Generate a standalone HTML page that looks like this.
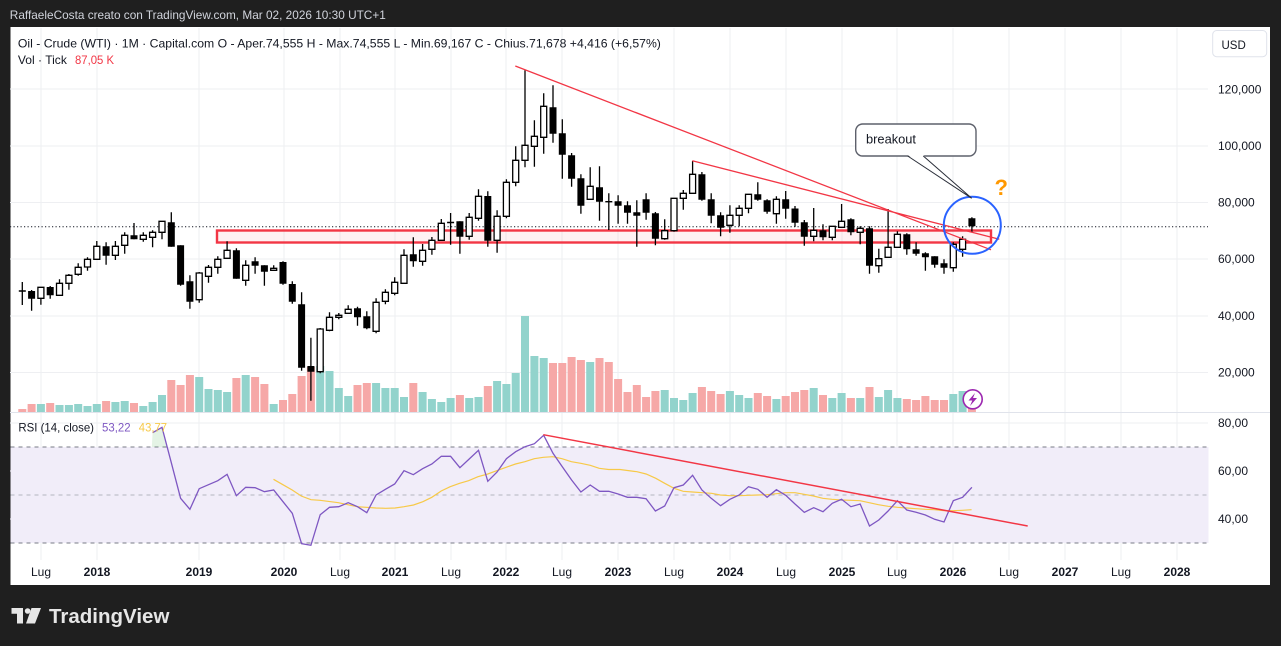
<!DOCTYPE html>
<html><head><meta charset="utf-8"><style>
html,body{margin:0;padding:0;background:#1f1f1f;}
svg{display:block;}
text{font-family:"Liberation Sans",sans-serif;}
</style></head><body>
<svg width="1281" height="646" viewBox="0 0 1281 646" xmlns="http://www.w3.org/2000/svg">
<rect x="0" y="0" width="1281" height="646" fill="#1f1f1f"/>
<text x="9.8" y="19" font-size="12" fill="#d1d4dc" textLength="376" lengthAdjust="spacingAndGlyphs">RaffaeleCosta creato con TradingView.com, Mar 02, 2026 10:30 UTC+1</text>
<rect x="10.5" y="27" width="1259.5" height="558" fill="#ffffff"/>

<!-- grid -->
<g stroke="#eeeff2" stroke-width="1">
<path d="M10 89H1208M10 146H1208M10 202.5H1208M10 259H1208M10 316H1208M10 372.5H1208M10 423H1208M10 471H1208M10 519H1208"/>
<path d="M41 28V560M97 28V560M199 28V560M284 28V560M340 28V560M395 28V560M451 28V560M506 28V560M562 28V560M618 28V560M674 28V560M730 28V560M786 28V560M842 28V560M897 28V560M953 28V560M1009 28V560M1065 28V560M1121 28V560M1177 28V560"/>
</g>
<path d="M10 412.5H1270" stroke="#e0e3eb" stroke-width="1"/>

<!-- volume -->
<path fill="#f6a8a7" d="M18.3 409h8V412h-8ZM27.6 404h8V412h-8ZM46.2 403h8V412h-8ZM102.1 401h8V412h-8ZM130 403h8V412h-8ZM167.3 380h8V412h-8ZM176.6 385h8V412h-8ZM185.9 375h8V412h-8ZM232.4 378h8V412h-8ZM251.1 377h8V412h-8ZM260.4 384h8V412h-8ZM279 400h8V412h-8ZM288.3 394h8V412h-8ZM297.6 376h8V412h-8ZM306.9 367h8V412h-8ZM353.5 385h8V412h-8ZM362.8 383h8V412h-8ZM409.3 383h8V412h-8ZM455.9 395h8V412h-8ZM483.8 386h8V412h-8ZM549 363h8V412h-8ZM558.3 363h8V412h-8ZM567.6 357h8V412h-8ZM576.9 360h8V412h-8ZM595.5 358h8V412h-8ZM604.8 362h8V412h-8ZM614.1 379h8V412h-8ZM623.5 392h8V412h-8ZM632.8 385h8V412h-8ZM642.1 397h8V412h-8ZM651.4 391h8V412h-8ZM697.9 387h8V412h-8ZM707.2 391h8V412h-8ZM716.6 394h8V412h-8ZM753.8 393h8V412h-8ZM763.1 396h8V412h-8ZM781.7 396h8V412h-8ZM791 392h8V412h-8ZM800.3 390h8V412h-8ZM819 395h8V412h-8ZM846.9 398h8V412h-8ZM865.5 387h8V412h-8ZM902.8 399h8V412h-8ZM912.1 400h8V412h-8ZM921.4 396h8V412h-8ZM930.7 400h8V412h-8ZM940 400h8V412h-8ZM967.9 397h8V412h-8Z"/>
<path fill="#92d3cc" d="M36.9 404h8V412h-8ZM55.5 405h8V412h-8ZM64.9 405h8V412h-8ZM74.2 404h8V412h-8ZM83.5 406h8V412h-8ZM92.8 404h8V412h-8ZM111.4 402h8V412h-8ZM120.7 401h8V412h-8ZM139.3 406h8V412h-8ZM148.6 402h8V412h-8ZM158 395h8V412h-8ZM195.2 377h8V412h-8ZM204.5 389h8V412h-8ZM213.8 390h8V412h-8ZM223.1 392h8V412h-8ZM241.7 375h8V412h-8ZM269.7 404h8V412h-8ZM316.2 366h8V412h-8ZM325.5 371h8V412h-8ZM334.8 388h8V412h-8ZM344.2 396h8V412h-8ZM372.1 383h8V412h-8ZM381.4 388h8V412h-8ZM390.7 388h8V412h-8ZM400 397h8V412h-8ZM418.6 392h8V412h-8ZM427.9 399h8V412h-8ZM437.3 402h8V412h-8ZM446.6 398h8V412h-8ZM465.2 398h8V412h-8ZM474.5 397h8V412h-8ZM493.1 381h8V412h-8ZM502.4 384h8V412h-8ZM511.7 373h8V412h-8ZM521 316h8V412h-8ZM530.4 356h8V412h-8ZM539.7 358h8V412h-8ZM586.2 362h8V412h-8ZM660.7 390h8V412h-8ZM670 398h8V412h-8ZM679.3 400h8V412h-8ZM688.6 393h8V412h-8ZM725.9 391h8V412h-8ZM735.2 395h8V412h-8ZM744.5 398h8V412h-8ZM772.4 399h8V412h-8ZM809.7 388h8V412h-8ZM828.3 398h8V412h-8ZM837.6 393h8V412h-8ZM856.2 398h8V412h-8ZM874.8 397h8V412h-8ZM884.1 390h8V412h-8ZM893.4 398h8V412h-8ZM949.3 394h8V412h-8ZM958.6 391h8V412h-8Z"/>

<!-- horizontal zone rectangle -->
<rect x="217" y="230.5" width="774" height="12" fill="#f23645" fill-opacity="0.07" stroke="#f23645" stroke-width="2.4"/>

<!-- current price dotted -->
<path d="M10 226.7H1208" stroke="#131722" stroke-width="1" stroke-dasharray="1.2,2.3"/>

<!-- wicks -->
<path fill="none" stroke="#000" stroke-width="1.3" d="M22.3 282V305M31.6 290V310.7M40.9 287V304.7M50.2 286V298.7M59.5 279.3V295.3M68.9 274V289.7M78.2 263.3V275.7M87.5 257.3V270.7M96.8 241V259.3M106.1 242.3V264.7M115.4 241V260M124.7 232.3V253.7M134 223V239.3M143.3 232.3V241.7M152.6 230.3V247.3M162 221.3V239.3M171.3 212.3V246.7M180.6 245.3V285.7M189.9 275.3V308.7M199.2 272V302.7M208.5 265V282.7M217.8 256.3V273.7M227.1 241.3V258.3M236.4 248.3V278.7M245.7 260.3V285.7M255.1 257.3V273.7M264.4 265.3V285.7M273.7 265.3V270.3M283 261.3V284.7M292.3 281.3V303.7M301.6 292.3V370.7M310.9 337.7V400.7M320.2 328V373.3M329.5 312.3V331.3M338.8 313V319.3M348.2 305.3V313.3M357.5 306.7V325.7M366.8 311.3V329.3M376.1 298.3V333.3M385.4 289.3V304.3M394.7 277.3V295.3M404 249.3V283.3M413.3 237.3V266.7M422.6 244V265.7M431.9 237V254.7M441.3 219V240.3M450.6 213V244.7M459.9 221.3V253.7M469.2 213V239.7M478.5 189.3V220.7M487.8 191.3V246.7M497.1 210.3V252.7M506.4 179.3V218.3M515.7 146.3V186.3M525 70.3V167.3M534.4 120.3V166.7M543.7 93.3V153.7M553 85.3V142.7M562.3 119.3V178.7M571.6 153V186.7M580.9 174.3V213.7M590.2 167.3V199.3M599.5 166.3V220.7M608.8 193.3V230M618.1 195.3V223.7M627.5 201.3V223.7M636.8 200.3V246.7M646.1 193.3V219.7M655.4 212V245.3M664.7 219.3V239.7M674 198.3V231.7M683.3 190V209.7M692.6 161V193.3M701.9 172V200.7M711.2 193.3V223.3M720.6 212.3V236.3M729.9 205.3V232.7M739.2 205.3V226.3M748.5 194.3V213.3M757.8 182.3V200.7M767.1 199.3V213.7M776.4 196.3V223.7M785.7 191V218.7M795 206V226.7M804.3 220V245.7M813.7 208V241.3M823 224.3V240.3M832.3 226.3V240.3M841.6 204V227.3M850.9 218.3V235.3M860.2 226.3V244.3M869.5 226.3V273.7M878.8 248.7V272.7M888.1 209V257.3M897.4 231.3V247.3M906.8 233.3V254.7M916.1 242.3V255.7M925.4 252.3V270.7M934.7 256.3V267.7M944 259.3V273.7M953.3 242.3V271.7M962.6 236.3V256.7M971.9 217.3V232.3"/>
<!-- dojis -->
<path fill="none" stroke="#000" stroke-width="1.4" d="M18.8 291h7M447.1 222.5h7M605.3 201.7h7"/>
<!-- bearish bodies -->
<path fill="#000" d="M28.1 291h7V298.7h-7ZM46.7 287h7V295.3h-7ZM102.6 246.3h7V255.7h-7ZM130.5 235.3h7V239.3h-7ZM167.8 222.3h7V246.7h-7ZM177.1 245.3h7V284.7h-7ZM186.4 281.3h7V301.7h-7ZM232.9 250.3h7V278.7h-7ZM251.6 261.3h7V265.7h-7ZM260.9 265.3h7V271.7h-7ZM279.5 262h7V283.7h-7ZM288.8 284h7V301.7h-7ZM298.1 304.3h7V367.7h-7ZM307.4 366h7V371.7h-7ZM354 308.3h7V317.3h-7ZM363.3 316.3h7V328.3h-7ZM409.8 254.3h7V261.3h-7ZM456.4 221.3h7V236.7h-7ZM484.3 196h7V240.7h-7ZM549.5 107.3h7V133.7h-7ZM558.8 133.3h7V154.7h-7ZM568.1 155.3h7V178.7h-7ZM577.4 178.3h7V205.7h-7ZM596 187.3h7V201.7h-7ZM614.6 201.3h7V205.7h-7ZM624 205.3h7V212.7h-7ZM633.3 212.3h7V215.7h-7ZM642.6 199.3h7V212.7h-7ZM651.9 213.3h7V238.7h-7ZM698.4 174.3h7V199.7h-7ZM707.7 199.3h7V215.7h-7ZM717.1 215.3h7V227.7h-7ZM754.3 194.3h7V199.7h-7ZM763.6 200.3h7V211.7h-7ZM782.2 199.3h7V208.7h-7ZM791.5 208.5h7V222.7h-7ZM800.8 222.3h7V236.7h-7ZM819.5 230.3h7V237.3h-7ZM847.4 219.3h7V232.3h-7ZM866 228.3h7V265.7h-7ZM903.3 234.3h7V249.3h-7ZM912.6 249.3h7V253.7h-7ZM921.9 253.3h7V257.3h-7ZM931.2 256.3h7V264.7h-7ZM940.5 263.3h7V267.7h-7ZM968.4 218.3h7V226.3h-7Z"/>
<!-- bullish bodies -->
<path fill="#fff" stroke="#000" stroke-width="1.3" d="M37.9 287.3h6V298.3h-6ZM56.5 283.3h6V295.3h-6ZM65.9 275.3h6V283.3h-6ZM75.2 267.3h6V274.3h-6ZM84.5 259.3h6V267h-6ZM93.8 246.3h6V259.3h-6ZM112.4 246.3h6V255.3h-6ZM121.7 235.3h6V245.3h-6ZM140.3 235.3h6V239.3h-6ZM149.6 232.3h6V237.3h-6ZM159 221.3h6V232.3h-6ZM196.2 273h6V299.7h-6ZM205.5 267.3h6V276.3h-6ZM214.8 259.3h6V267.3h-6ZM224.1 250.3h6V258.3h-6ZM242.7 265.3h6V280.3h-6ZM270.7 268.3h6V270.3h-6ZM317.2 329h6V371.7h-6ZM326.5 317.3h6V330.3h-6ZM335.8 315.3h6V317.3h-6ZM345.2 309.3h6V313.3h-6ZM373.1 302.3h6V331.3h-6ZM382.4 292.3h6V301.3h-6ZM391.7 282.3h6V293.3h-6ZM401 255.3h6V283.3h-6ZM419.6 250.3h6V261.3h-6ZM428.9 240.3h6V249.3h-6ZM438.3 223.3h6V240.3h-6ZM466.2 217.3h6V236.3h-6ZM475.5 196.3h6V218.3h-6ZM494.1 216.3h6V240.3h-6ZM503.4 182.3h6V216.3h-6ZM512.7 160.3h6V182.3h-6ZM522 145.3h6V160.3h-6ZM531.4 136.3h6V146.3h-6ZM540.7 106.3h6V137.3h-6ZM587.2 186.3h6V199.3h-6ZM661.7 230.7h6V238.7h-6ZM671 198.3h6V230.7h-6ZM680.3 193.3h6V198.3h-6ZM689.6 174.3h6V193.3h-6ZM726.9 215.3h6V225.3h-6ZM736.2 208.3h6V215.3h-6ZM745.5 194.3h6V208.3h-6ZM773.4 199.3h6V213.7h-6ZM810.7 230.3h6V236.3h-6ZM829.3 226.3h6V237.3h-6ZM838.6 221.3h6V227.3h-6ZM857.2 228.3h6V232.3h-6ZM875.8 258.7h6V265.7h-6ZM885.1 247.3h6V257.3h-6ZM894.4 234.3h6V247.3h-6ZM950.3 244.3h6V267.7h-6ZM959.6 239.3h6V249.3h-6Z"/>

<!-- trendlines -->
<path d="M515.3 66L991 249.8M692.3 160.7L999.3 239.3" stroke="#f23645" stroke-width="1.3" fill="none"/>

<!-- blue circle -->
<circle cx="972.3" cy="225.3" r="28.5" fill="none" stroke="#2962ff" stroke-width="2"/>

<!-- callout -->
<rect x="855.7" y="124" width="120.3" height="32" rx="7" ry="7" fill="#fff" stroke="#5d606b" stroke-width="1.4"/>
<polygon points="907.7,155 923.3,155 971.7,198.3" fill="#fff"/>
<path d="M907.7 156L971.7 198.3M923.3 156L971.7 198.3" stroke="#2a2e39" stroke-width="1" fill="none"/>
<text x="866" y="143.5" font-size="13" fill="#131722" textLength="50" lengthAdjust="spacingAndGlyphs">breakout</text>
<text x="994.5" y="195" font-size="22" font-weight="bold" fill="#ff9800">?</text>

<!-- lightning icon -->
<circle cx="972.7" cy="399.3" r="9.5" fill="#fff" stroke="#9c27b0" stroke-width="1.6"/>
<path d="M975 393L968.5 400.5H972.3L970 406L977 398H973Z" fill="#9c27b0"/>

<!-- legend -->
<text x="17.9" y="47.5" font-size="12" fill="#131722" textLength="643" lengthAdjust="spacingAndGlyphs">Oil - Crude (WTI) · 1M · Capital.com  O - Aper.74,555  H - Max.74,555  L - Min.69,167  C - Chius.71,678  +4,416 (+6,57%)</text>
<text x="17.9" y="64" font-size="12" fill="#131722" textLength="49" lengthAdjust="spacingAndGlyphs">Vol · Tick</text>
<text x="75" y="64" font-size="12" fill="#f23645" textLength="39" lengthAdjust="spacingAndGlyphs">87,05 K</text>

<!-- USD box -->
<rect x="1212.7" y="30.5" width="54" height="26.2" rx="4" fill="#fff" stroke="#e0e3eb" stroke-width="1"/>
<text x="1221.5" y="49" font-size="11.5" fill="#131722">USD</text>

<!-- price axis labels -->
<g font-size="12" fill="#131722">
<text x="1218" y="93.3">120,000</text>
<text x="1218" y="150">100,000</text>
<text x="1218" y="206.3">80,000</text>
<text x="1218" y="263">60,000</text>
<text x="1218" y="320">40,000</text>
<text x="1218" y="376.3">20,000</text>
<text x="1218" y="427">80,00</text>
<text x="1218" y="475">60,00</text>
<text x="1218" y="523">40,00</text>
</g>

<!-- RSI pane -->
<rect x="10.5" y="447" width="1198" height="96" fill="#f1edf9"/>
<path d="M10.5 447H1208M10.5 543H1208" stroke="#787b86" stroke-width="1" stroke-dasharray="4,4"/>
<path d="M10.5 495H1208" stroke="#b2b5be" stroke-width="1" stroke-dasharray="4,4"/>
<polygon points="151.8,447 152.6,432.7 162,427.3 166.4,447" fill="#4caf50" fill-opacity="0.15"/>
<polyline fill="none" stroke="#f7c948" stroke-width="1.2" points="273.5,479.3 282.9,484.7 292.2,490 301.2,496 311,499.7 320,500.3 338.4,502.7 357.1,506.7 375.9,508 385.7,508.3 395.1,508 404.1,506.7 413.5,505 422.9,501.7 431.8,497.3 441.2,491 450.2,486.7 459.6,483.3 468.6,480.7 478,476.7 487.8,474 496.7,470.7 506.1,467.3 515.5,464 524.9,461.7 534.3,458.7 543.3,457.3 552.7,456.7 562,458.7 571.4,461.7 580.8,463.3 590.2,465.3 599.2,468.3 608.6,469.5 620,469.5 636.9,471.7 646.1,474 655.8,478.3 664.7,483.3 674,488.3 683.2,491.3 692.5,492 702.2,492.7 711.5,493.3 720.3,495 730,495.7 739.3,495.7 748.6,495.3 757.9,495 767.1,494.7 776.4,493.7 785.7,492.7 795,492.7 804.2,494.3 813.5,496 822.8,498.3 832.1,499.3 841.3,500 850.6,500.3 859.9,500.7 869.2,502.7 878.4,504.7 888.1,506.3 897.4,507.3 906.7,508 916,508.7 925.2,509.3 934.5,509.7 943.8,510.7 953.1,510.7 962.3,510.3 971.6,509.7"/>
<polyline fill="none" stroke="#7e57c2" stroke-width="1.3" points="152.6,432.7 162,427.3 171.3,462.7 180.6,498.3 189.9,509.3 199.2,488.7 208.5,484.7 217.8,480.7 227.1,474.3 236.4,495.7 245.7,487.3 255.1,487.7 264.4,491.7 273.7,490 283,501.7 292.3,513.3 301.6,543.7 310.9,545.3 320.2,514.7 329.5,507.3 338.8,506.7 348.2,502.7 357.5,506.7 366.8,512.7 376.1,495 385.4,489.3 394.7,484 404,470.7 413.3,474.7 422.6,468.7 431.9,464 441.3,456.3 450.6,456.3 459.9,467.7 469.2,459 478.5,450.3 487.8,481.3 497.1,472 506.4,458.7 515.7,451.7 525,446.7 534.4,443.7 543.7,435.3 553,453.3 562.3,466.7 571.6,480 580.9,492 590.2,485 599.5,491.3 608.8,491.3 618.1,494 627.5,497.3 636.8,497.3 646.1,498.7 655.4,511 664.7,506 674,487.7 683.3,485 692.6,475.3 701.9,490 711.2,498.3 720.6,505.7 729.9,499.3 739.2,495 748.5,486.7 757.8,489.3 767.1,497.3 776.4,489.7 785.7,495.3 795,504 804.3,512.3 813.7,507.7 823,511.7 832.3,503.3 841.6,499.3 850.9,506.7 860.2,504 869.5,526 878.8,520 888.1,511 897.4,500.7 906.8,510 916.1,512.3 925.4,515 934.7,519.3 944,522 953.3,500.7 962.6,497.3 971.9,487.3"/>
<path d="M543.3 434.7L1027.7 526" stroke="#f23645" stroke-width="1.5" fill="none"/>
<text x="18.4" y="431.5" font-size="12" fill="#131722" textLength="75.6" lengthAdjust="spacingAndGlyphs">RSI (14, close)</text>
<text x="102" y="431.5" font-size="12" fill="#7e57c2" textLength="28.6" lengthAdjust="spacingAndGlyphs">53,22</text>
<text x="138.8" y="431.5" font-size="12" fill="#f7c948" textLength="28.2" lengthAdjust="spacingAndGlyphs">43,77</text>

<!-- time axis -->
<g font-size="12" fill="#131722" text-anchor="middle">
<text x="41" y="576">Lug</text>
<text x="97" y="576" font-weight="bold">2018</text>
<text x="199" y="576" font-weight="bold">2019</text>
<text x="284" y="576" font-weight="bold">2020</text>
<text x="340" y="576">Lug</text>
<text x="395" y="576" font-weight="bold">2021</text>
<text x="451" y="576">Lug</text>
<text x="506" y="576" font-weight="bold">2022</text>
<text x="562" y="576">Lug</text>
<text x="618" y="576" font-weight="bold">2023</text>
<text x="674" y="576">Lug</text>
<text x="730" y="576" font-weight="bold">2024</text>
<text x="786" y="576">Lug</text>
<text x="842" y="576" font-weight="bold">2025</text>
<text x="897" y="576">Lug</text>
<text x="953" y="576" font-weight="bold">2026</text>
<text x="1009" y="576">Lug</text>
<text x="1065" y="576" font-weight="bold">2027</text>
<text x="1121" y="576">Lug</text>
<text x="1177" y="576" font-weight="bold">2028</text>
</g>

<!-- footer logo -->
<g fill="#e6e6e6">
<path d="M11.5 608H23V623.5H17V613.8H11.5Z"/>
<circle cx="27.6" cy="611" r="2.8"/>
<path d="M31.5 608H41L35 623.5H26Z"/>
</g>
<text x="49" y="623" font-size="20" font-weight="bold" fill="#e6e6e6" textLength="120.4" lengthAdjust="spacingAndGlyphs">TradingView</text>
</svg>
</body></html>
